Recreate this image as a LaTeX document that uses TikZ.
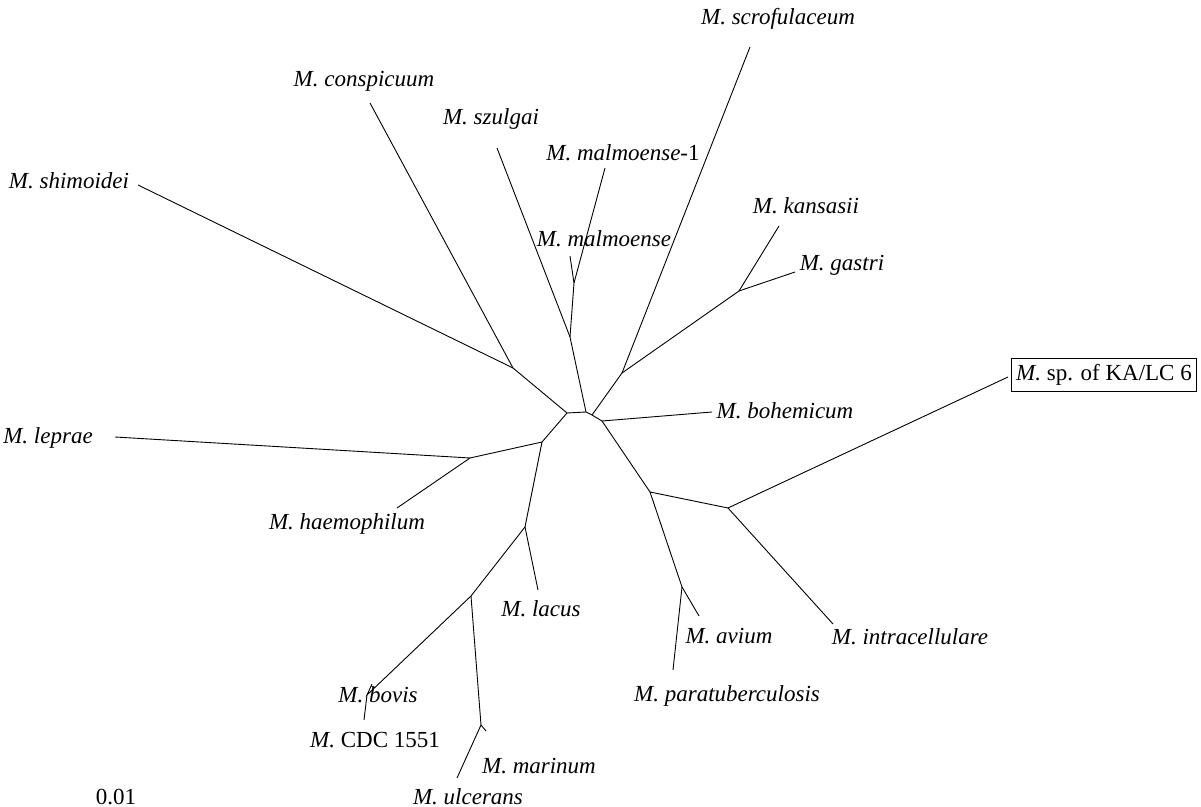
\documentclass[tikz,border=0pt]{standalone}
\usepackage{fontspec}
\setmainfont{Liberation Serif}
\begin{document}
\begin{tikzpicture}[x=0.5pt,y=-0.5pt,
  br/.style={line width=0.45pt},
  taxon/.style={font=\fontsize{11.5}{13}\selectfont, inner sep=0pt}]
\useasboundingbox (0,0) rectangle (1201,807);

% forks
\coordinate (a) at (567,413);
\coordinate (b) at (586,412);
\coordinate (d) at (592,415);
\coordinate (c) at (602,421);
\coordinate (e) at (622,373);
\coordinate (f) at (739,291);
\coordinate (g) at (570,337);
\coordinate (h) at (574,283);
\coordinate (i) at (513,368);
\coordinate (j) at (542,442);
\coordinate (k) at (470,458);
\coordinate (l) at (525,527);
\coordinate (m) at (471,596);
\coordinate (n) at (367,695);
\coordinate (o) at (481,725);
\coordinate (p) at (650,492);
\coordinate (q) at (728,508);
\coordinate (r) at (682,587);

% tips
\coordinate (shi) at (138,185);
\coordinate (con) at (370,103);
\coordinate (szu) at (497,148);
\coordinate (mal) at (570,256);
\coordinate (ma1) at (605,168);
\coordinate (scr) at (750,47);
\coordinate (kan) at (779,226);
\coordinate (gas) at (795,272);
\coordinate (boh) at (712,412);
\coordinate (ka) at (1008,377);
\coordinate (int) at (833,624);
\coordinate (avi) at (699,616);
\coordinate (par) at (673,670);
\coordinate (lac) at (538,590);
\coordinate (hae) at (397,508);
\coordinate (lep) at (115,437);
\coordinate (bov) at (372,684);
\coordinate (cdc) at (364,720);
\coordinate (mar) at (486,731);
\coordinate (ulc) at (457,778);

% labels
\node[taxon] (tshi) at (69,181) {\textit{M. shimoidei}};
\node[taxon] (tcon) at (364,81) {\textit{M. conspicuum}};
\node[taxon] (tszu) at (491,119) {\textit{M. szulgai}};
\node[taxon] (tma1) at (623,153) {\textit{M. malmoense}-1};
\node[taxon] (tmal) at (604,239) {\textit{M. malmoense}};
\node[taxon] (tscr) at (778,19) {\textit{M. scrofulaceum}};
\node[taxon] (tkan) at (806,206) {\textit{M. kansasii}};
\node[taxon] (tgas) at (842,265) {\textit{M. gastri}};
\node[taxon] (tboh) at (785,411) {\textit{M. bohemicum}};
\node[taxon,draw,line width=0.4pt,inner xsep=2.5pt,inner ysep=3pt] (tka) at (1104,375) {\textit{M.} sp. of KA/LC 6};
\node[taxon] (tint) at (910,637) {\textit{M. intracellulare}};
\node[taxon] (tavi) at (729,636) {\textit{M. avium}};
\node[taxon] (tpar) at (727,696) {\textit{M. paratuberculosis}};
\node[taxon] (tlac) at (541,609) {\textit{M. lacus}};
\node[taxon] (thae) at (347,524) {\textit{M. haemophilum}};
\node[taxon] (tlep) at (48,438) {\textit{M. leprae}};
\node[taxon] (tbov) at (378,695) {\textit{M. bovis}};
\node[taxon] (tcdc) at (375,740) {\textit{M.} CDC 1551};
\node[taxon] (tmar) at (539,766) {\textit{M. marinum}};
\node[taxon] (tulc) at (468,797) {\textit{M. ulcerans}};
\node[taxon] (scale) at (116,797) {0.01};

% branches
\draw[br] (a) -- (b) -- (d) -- (c);
\draw[br] (a) -- (i) -- (shi);
\draw[br] (i) -- (con);
\draw[br] (b) -- (g) -- (szu);
\draw[br] (g) -- (h) -- (mal);
\draw[br] (h) -- (ma1);
\draw[br] (d) -- (e) -- (scr);
\draw[br] (e) -- (f) -- (kan);
\draw[br] (f) -- (gas);
\draw[br] (c) -- (boh);
\draw[br] (c) -- (p) -- (q) -- (ka);
\draw[br] (q) -- (int);
\draw[br] (p) -- (r) -- (avi);
\draw[br] (r) -- (par);
\draw[br] (a) -- (j) -- (k) -- (lep);
\draw[br] (k) -- (hae);
\draw[br] (j) -- (l) -- (lac);
\draw[br] (l) -- (m) -- (n) -- (bov);
\draw[br] (n) -- (cdc);
\draw[br] (m) -- (o) -- (mar);
\draw[br] (o) -- (ulc);
\end{tikzpicture}
\end{document}
